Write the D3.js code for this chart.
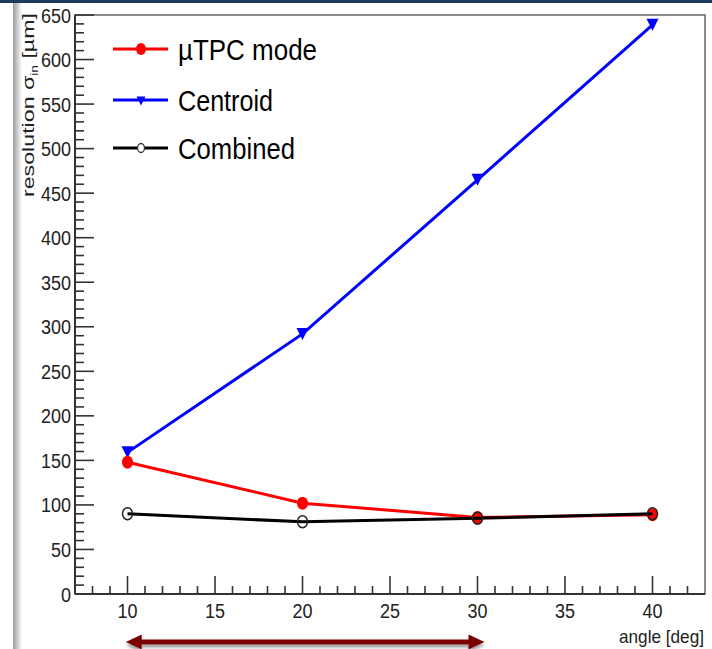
<!DOCTYPE html>
<html>
<head>
<meta charset="utf-8">
<script src="https://cdn.jsdelivr.net/npm/d3@7"></script>
<style>
  body { margin: 0; background: #fff; }
  text { font-family: "Liberation Sans", Arial, sans-serif; }
</style>
</head>
<body>
<svg id="chart" width="712" height="649"></svg>
<script>
// data
var angles = [10, 20, 30, 40];
var tpcValues = [148, 102, 86, 89];
var centroidValues = [159, 292, 465, 639];
var combinedValues = [90, 81, 85, 90];
var seriesNames = ["\u00b5TPC mode", "Centroid", "Combined"];
var xTicks = [10, 15, 20, 25, 30, 35, 40];
var yTicks = d3.range(0, 651, 50);
var arrowSpan = [9.9, 30.4];

var svg = d3.select("#chart");
var W = 712, H = 649;

var x = d3.scaleLinear().domain([7, 43]).range([75, 705]);
var y = d3.scaleLinear().domain([0, 650]).range([594, 15]);

var defs = svg.append("defs");
var grad = defs.append("linearGradient").attr("id", "edge");
grad.append("stop").attr("offset", "0%").attr("stop-color", "#9c9c9c");
grad.append("stop").attr("offset", "100%").attr("stop-color", "#ffffff");
var shadow = defs.append("filter").attr("id", "shadow")
    .attr("x", "-5%").attr("y", "-50%").attr("width", "110%").attr("height", "250%");
shadow.append("feDropShadow").attr("dx", 0).attr("dy", 3)
    .attr("stdDeviation", 1.5).attr("flood-color", "#777").attr("flood-opacity", 0.7);

// slide decoration: navy top rule and shaded left edge
svg.append("rect").attr("x", 0).attr("y", 0).attr("width", W).attr("height", 3).attr("fill", "#1e3a5f");
svg.append("rect").attr("x", 13).attr("y", 3).attr("width", 9).attr("height", H - 3).attr("fill", "url(#edge)");

// frame
svg.append("rect")
    .attr("x", x.range()[0]).attr("y", y.range()[1])
    .attr("width", x.range()[1] - x.range()[0]).attr("height", y.range()[0] - y.range()[1])
    .attr("fill", "none").attr("stroke", "#666").attr("stroke-width", 1.5);

// digits are drawn a bit narrow, like the original
function digitWidth(d, w) { return String(d).length * w; }

// y axis, ticks pointing inward
var yAxis = svg.append("g").attr("transform", "translate(" + x.range()[0] + ",0)");
yAxis.selectAll(".minor").data(d3.range(0, 651, 10)).enter().append("line")
    .attr("x1", 0).attr("x2", function(d) { return d % 50 === 0 ? 19 : 9; })
    .attr("y1", y).attr("y2", y)
    .attr("stroke", "#333").attr("stroke-width", 1.6);
yAxis.append("line").attr("x1", 0).attr("x2", 0)
    .attr("y1", y(0)).attr("y2", y(650)).attr("stroke", "#333").attr("stroke-width", 2);
yAxis.selectAll(".lab").data(yTicks).enter().append("text")
    .attr("x", -4).attr("y", function(d) { return y(d) + 7.5; })
    .attr("text-anchor", "end").attr("font-size", 20).attr("fill", "#222")
    .attr("textLength", function(d) { return digitWidth(d, 10); })
    .attr("lengthAdjust", "spacingAndGlyphs")
    .text(function(d) { return d; });

// x axis
var xAxis = svg.append("g").attr("transform", "translate(0," + y.range()[0] + ")");
xAxis.selectAll(".minor").data(d3.range(8, 43, 1)).enter().append("line")
    .attr("x1", x).attr("x2", x)
    .attr("y1", 0).attr("y2", function(d) { return d % 5 === 0 ? -18 : -8; })
    .attr("stroke", "#333").attr("stroke-width", 1.6);
xAxis.append("line").attr("x1", x.range()[0]).attr("x2", x.range()[1])
    .attr("y1", 0).attr("y2", 0).attr("stroke", "#333").attr("stroke-width", 2);
xAxis.selectAll(".lab").data(xTicks).enter().append("text")
    .attr("x", x).attr("y", 24)
    .attr("text-anchor", "middle").attr("font-size", 20).attr("fill", "#222")
    .attr("textLength", function(d) { return digitWidth(d, 10); })
    .attr("lengthAdjust", "spacingAndGlyphs")
    .text(function(d) { return d; });

svg.append("text").attr("x", 704).attr("y", 643)
    .attr("text-anchor", "end").attr("font-size", 19).attr("fill", "#222")
    .attr("textLength", 85).attr("lengthAdjust", "spacingAndGlyphs")
    .text("angle [deg]");

// y title
var yTitle = svg.append("text")
    .attr("transform", "translate(34,197) rotate(-90)")
    .attr("font-size", 17).attr("fill", "#222")
    .attr("textLength", 184).attr("lengthAdjust", "spacingAndGlyphs");
yTitle.append("tspan").text("resolution \u03c3");
yTitle.append("tspan").attr("dy", 4).attr("font-size", 10).text("in");
yTitle.append("tspan").attr("dy", -4).text(" [\u00b5m]");

// series
var line = d3.line().x(function(d) { return x(d[0]); }).y(function(d) { return y(d[1]); });
function pairs(vals) { return angles.map(function(a, i) { return [a, vals[i]]; }); }

function triangle(g, cx, cy, s) {
    g.append("path")
        .attr("d", "M" + (cx - s) + "," + (cy - s) + "L" + (cx + s) + "," + (cy - s) + "L" + cx + "," + (cy + s) + "Z")
        .attr("fill", "#0000ff");
}

svg.append("path").datum(pairs(centroidValues)).attr("d", line)
    .attr("fill", "none").attr("stroke", "#0000ff").attr("stroke-width", 3);
var cg = svg.append("g");
pairs(centroidValues).forEach(function(p) { triangle(cg, x(p[0]), y(p[1]), 6); });

svg.append("path").datum(pairs(tpcValues)).attr("d", line)
    .attr("fill", "none").attr("stroke", "#ff0000").attr("stroke-width", 3);
svg.selectAll(".tpc").data(pairs(tpcValues)).enter().append("ellipse")
    .attr("cx", function(d) { return x(d[0]); }).attr("cy", function(d) { return y(d[1]); })
    .attr("rx", 5.5).attr("ry", 6.5).attr("fill", "#ff0000");

svg.append("path").datum(pairs(combinedValues)).attr("d", line)
    .attr("fill", "none").attr("stroke", "#000").attr("stroke-width", 3);
svg.selectAll(".comb").data(pairs(combinedValues)).enter().append("ellipse")
    .attr("cx", function(d) { return x(d[0]); }).attr("cy", function(d) { return y(d[1]); })
    .attr("rx", 5).attr("ry", 6).attr("fill", "none").attr("stroke", "#222").attr("stroke-width", 1.5);

// legend
var legendY = [49, 100, 148];
var legendW = [139, 95, 117];
var legendColors = ["#ff0000", "#0000ff", "#000"];
seriesNames.forEach(function(name, i) {
    var ly = legendY[i];
    svg.append("line").attr("x1", 113).attr("x2", 168).attr("y1", ly).attr("y2", ly)
        .attr("stroke", legendColors[i]).attr("stroke-width", 3);
    if (i === 0) {
        svg.append("ellipse").attr("cx", 141).attr("cy", ly).attr("rx", 5).attr("ry", 6).attr("fill", "#ff0000");
    } else if (i === 1) {
        triangle(svg, 141, ly + 1, 4.5);
    } else {
        svg.append("ellipse").attr("cx", 141).attr("cy", ly).attr("rx", 3.5).attr("ry", 4.5)
            .attr("fill", "#fff").attr("stroke", "#333").attr("stroke-width", 1.3);
    }
    svg.append("text").attr("x", 178).attr("y", ly + 11)
        .attr("font-size", 30).attr("fill", "#000")
        .attr("textLength", legendW[i]).attr("lengthAdjust", "spacingAndGlyphs")
        .text(name);
});

// double-headed arrow under the axis
var ax0 = x(arrowSpan[0]), ax1 = x(arrowSpan[1]), ay = 642;
svg.append("path")
    .attr("d", "M" + ax0 + "," + ay +
        "L" + (ax0 + 16) + "," + (ay - 7.5) + "L" + (ax0 + 16) + "," + (ay - 2.5) +
        "L" + (ax1 - 16) + "," + (ay - 2.5) + "L" + (ax1 - 16) + "," + (ay - 7.5) +
        "L" + ax1 + "," + ay +
        "L" + (ax1 - 16) + "," + (ay + 7.5) + "L" + (ax1 - 16) + "," + (ay + 2.5) +
        "L" + (ax0 + 16) + "," + (ay + 2.5) + "L" + (ax0 + 16) + "," + (ay + 7.5) + "Z")
    .attr("fill", "#7d0000").attr("filter", "url(#shadow)");
</script>
</body>
</html>
